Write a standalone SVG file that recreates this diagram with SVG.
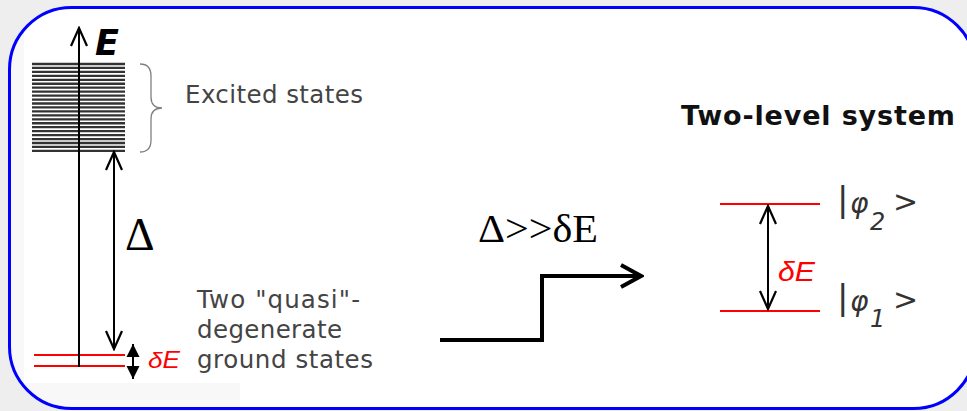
<svg xmlns="http://www.w3.org/2000/svg" width="967" height="411" viewBox="0 0 967 411">
<style>
.sans{font-family:"DejaVu Sans","Verdana",sans-serif;}
.serif{font-family:"Liberation Serif","Times New Roman",serif;}
.lbl{font-family:"DejaVu Sans","Verdana",sans-serif;font-size:24.5px;fill:#444;}
.red{stroke:#ff0000;stroke-width:2;fill:none;}
.blk{stroke:#000;stroke-width:2;fill:none;}
.band{stroke:#333;stroke-width:2.3;}
.dE{font-family:"Liberation Sans",Arial,sans-serif;font-style:italic;fill:#ff0000;}
.ket{font-family:"DejaVu Sans","Verdana",sans-serif;fill:#333;}
</style>
<defs>
<marker id="vopen" viewBox="-20 -10 22 20" refX="0" refY="0" markerWidth="22" markerHeight="20" markerUnits="userSpaceOnUse" orient="auto-start-reverse">
<path d="M-18,-8 L0,0 L-18,8" fill="none" stroke="#000" stroke-width="2.2"/>
</marker>
<marker id="tri" viewBox="-14 -8 15 16" refX="0" refY="0" markerWidth="15" markerHeight="16" markerUnits="userSpaceOnUse" orient="auto-start-reverse">
<path d="M-13,-6.5 L0,0 L-13,6.5 Z" fill="#000"/>
</marker>
<marker id="big" viewBox="-24 -14 27 28" refX="0" refY="0" markerWidth="27" markerHeight="28" markerUnits="userSpaceOnUse" orient="auto">
<path d="M-20,-11 L0,0 L-20,11" fill="none" stroke="#000" stroke-width="4"/>
</marker>
<clipPath id="frame"><rect x="9.5" y="7.5" width="966" height="401" rx="62"/></clipPath>
</defs>
<rect x="0" y="0" width="967" height="411" fill="#eeeeee"/>
<rect x="9.5" y="7.5" width="966" height="401" rx="62" fill="#ffffff"/>
<g clip-path="url(#frame)" fill="#f8f8f8">
<rect x="0" y="0" width="24" height="411"/>
<rect x="0" y="383" width="240" height="30"/>
</g>
<rect id="frame-border" x="9.5" y="7.5" width="966" height="401" rx="62" fill="none" stroke="#0000ff" stroke-width="3"/>

<g id="excited-band">
<line class="band" x1="32" y1="64" x2="125" y2="64"/>
<line class="band" x1="32" y1="67.95" x2="125" y2="67.95"/>
<line class="band" x1="32" y1="71.9" x2="125" y2="71.9"/>
<line class="band" x1="32" y1="75.85" x2="125" y2="75.85"/>
<line class="band" x1="32" y1="79.8" x2="125" y2="79.8"/>
<line class="band" x1="32" y1="83.75" x2="125" y2="83.75"/>
<line class="band" x1="32" y1="87.7" x2="125" y2="87.7"/>
<line class="band" x1="32" y1="91.65" x2="125" y2="91.65"/>
<line class="band" x1="32" y1="95.6" x2="125" y2="95.6"/>
<line class="band" x1="32" y1="99.55" x2="125" y2="99.55"/>
<line class="band" x1="32" y1="103.5" x2="125" y2="103.5"/>
<line class="band" x1="32" y1="107.45" x2="125" y2="107.45"/>
<line class="band" x1="32" y1="111.4" x2="125" y2="111.4"/>
<line class="band" x1="32" y1="115.35" x2="125" y2="115.35"/>
<line class="band" x1="32" y1="119.3" x2="125" y2="119.3"/>
<line class="band" x1="32" y1="123.25" x2="125" y2="123.25"/>
<line class="band" x1="32" y1="127.2" x2="125" y2="127.2"/>
<line class="band" x1="32" y1="131.15" x2="125" y2="131.15"/>
<line class="band" x1="32" y1="135.1" x2="125" y2="135.1"/>
<line class="band" x1="32" y1="139.05" x2="125" y2="139.05"/>
<line class="band" x1="32" y1="143" x2="125" y2="143"/>
<line class="band" x1="32" y1="146.95" x2="125" y2="146.95"/>
<line class="band" x1="32" y1="150.9" x2="125" y2="150.9"/>
</g>

<g id="brace">
<path d="M140,64 Q151,64 151,76 L151,97 Q151,108 162,108 Q151,108 151,119 L151,140 Q151,152 140,152" fill="none" stroke="#808080" stroke-width="1.3"/>
</g>
<g id="excited-label"><text class="lbl" x="185" y="103" textLength="178" lengthAdjust="spacing">Excited states</text></g>

<g id="ground-levels">
<line class="red" x1="34" y1="355" x2="125" y2="355"/>
<line class="red" x1="34" y1="366" x2="125" y2="366"/>
</g>

<g id="energy-label"><text class="sans" x="95" y="55" font-size="35" font-weight="bold" font-style="italic" fill="#000">E</text></g>
<g id="delta-label"><text class="serif" x="125" y="250" font-size="46" fill="#000">Δ</text></g>
<g id="dE-left"><text class="dE" x="148" y="368" font-size="23" textLength="32" lengthAdjust="spacingAndGlyphs">δE</text></g>
<g id="ground-label">
<text class="lbl" x="197" y="308" textLength="163" lengthAdjust="spacing">Two "quasi"-</text>
<text class="lbl" x="197" y="338" textLength="145" lengthAdjust="spacing">degenerate</text>
<text class="lbl" x="197" y="368" textLength="176" lengthAdjust="spacing">ground states</text>
</g>

<g id="condition-label"><text class="serif" x="478" y="242" font-size="40" textLength="120" lengthAdjust="spacingAndGlyphs" fill="#000">Δ&gt;&gt;δE</text></g>

<g id="title-right"><text class="sans" x="681" y="125" font-size="27" font-weight="bold" fill="#111" textLength="274" lengthAdjust="spacing">Two-level system</text></g>

<g id="levels-right">
<line class="red" x1="720" y1="204" x2="820" y2="204"/>
<line class="red" x1="720" y1="311" x2="820" y2="311"/>
</g>
<g id="dE-right"><text class="dE" x="778" y="281" font-size="27" textLength="37" lengthAdjust="spacingAndGlyphs">δE</text></g>

<g id="phi2">
<text class="ket" x="837" y="211" font-size="34">|</text>
<text class="ket" x="850" y="213" font-size="28" font-style="italic">φ</text>
<text class="ket" x="870" y="230" font-size="24" font-style="italic">2</text>
<text class="ket" x="893" y="212" font-size="30">&gt;</text>
</g>
<g id="phi1">
<text class="ket" x="837" y="309" font-size="34">|</text>
<text class="ket" x="850" y="311" font-size="28" font-style="italic">φ</text>
<text class="ket" x="870" y="327" font-size="24" font-style="italic">1</text>
<text class="ket" x="893" y="310" font-size="30">&gt;</text>
</g>

<g id="connectors">
<line class="blk" x1="79" y1="367" x2="79" y2="28" marker-end="url(#vopen)"/>
<line class="blk" x1="114" y1="152" x2="114" y2="349" marker-start="url(#vopen)" marker-end="url(#vopen)"/>
<line class="blk" x1="133" y1="344" x2="133" y2="379" marker-start="url(#tri)" marker-end="url(#tri)"/>
<line class="blk" x1="768" y1="206" x2="768" y2="309" marker-start="url(#vopen)" marker-end="url(#vopen)"/>
<polyline points="440,340 542,340 542,276 641,276" fill="none" stroke="#000" stroke-width="4" marker-end="url(#big)"/>
</g>
</svg>
